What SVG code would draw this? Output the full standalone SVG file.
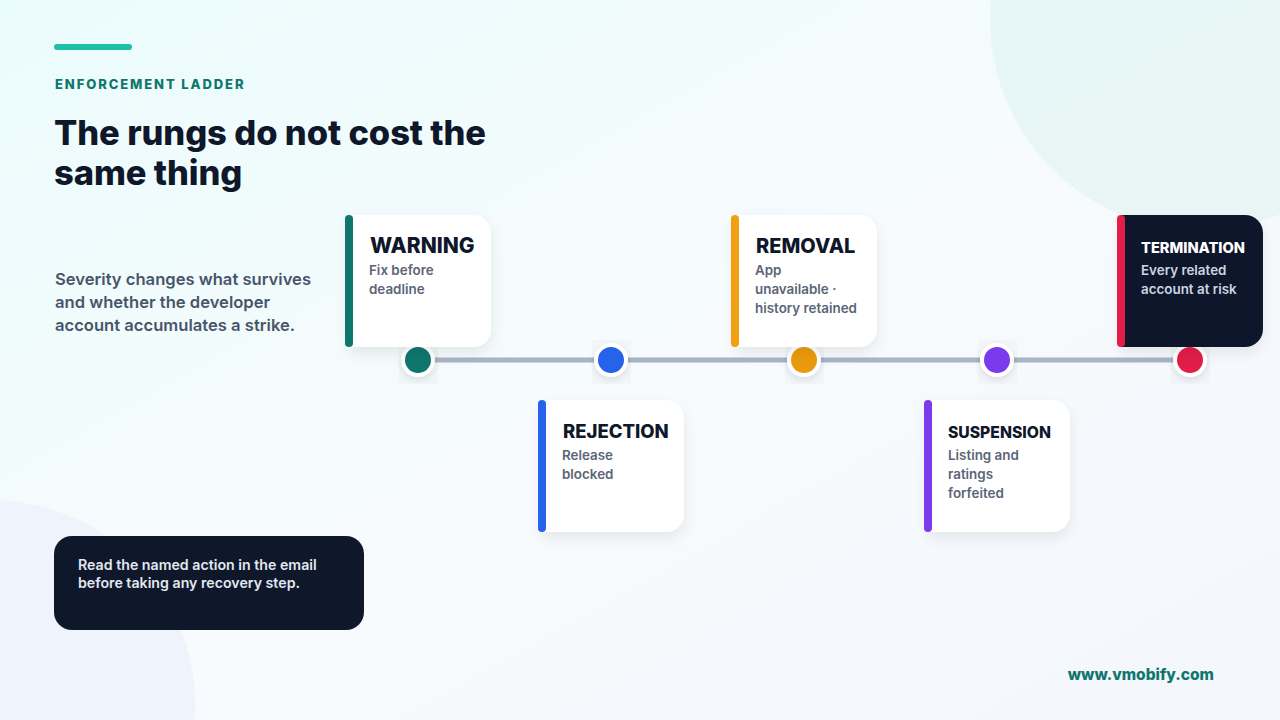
<svg xmlns="http://www.w3.org/2000/svg" width="1280" height="720" viewBox="0 0 1280 720">
  <defs>
    <linearGradient id="bg" x1="0" y1="0" x2="1" y2="1">
      <stop offset="0" stop-color="#ebfcfc"/>
      <stop offset="0.55" stop-color="#f8fbfd"/>
      <stop offset="1" stop-color="#f3f6fc"/>
    </linearGradient>
    <filter id="shadow" x="-30%" y="-30%" width="160%" height="170%">
      <feDropShadow dx="0" dy="6" stdDeviation="7" flood-color="#0f172a" flood-opacity="0.08"/>
    </filter>
    <filter id="dotshadow" x="-60%" y="-60%" width="220%" height="220%">
      <feDropShadow dx="0" dy="3" stdDeviation="3" flood-color="#0f172a" flood-opacity="0.10"/>
    </filter>
    <style>
      text { font-family: Inter, "Noto Sans", "Liberation Sans", sans-serif; }
      .kicker { font-size: 13px; font-weight: 800; letter-spacing: 1.9px; fill: #0f766e; }
      .title { font-size: 34.5px; font-weight: 800; fill: #0f172a; letter-spacing: -0.1px; }
      .lead { font-size: 16.6px; font-weight: 600; fill: #475569; }
      .card { fill: #ffffff; filter: url(#shadow); }
      .card-dark { fill: #0f172a; filter: url(#shadow); }
      .ctitle { font-weight: 800; fill: #0f172a; }
      .ctitle-dark { font-weight: 800; fill: #ffffff; }
      .cdesc { font-size: 13.4px; font-weight: 600; fill: #5b6577; }
      .cdesc-dark { font-size: 13.4px; font-weight: 600; fill: #cbd5e1; }
      .note { font-size: 14.2px; font-weight: 600; fill: #e2e8f0; }
      .url { font-size: 15.5px; font-weight: 800; fill: #0f766e; }
      .ring { fill: #ffffff; filter: url(#dotshadow); }
      .halo { fill: #0f172a; opacity: 0.02; }
    </style>
  </defs>

  <rect x="0" y="0" width="1280" height="720" fill="url(#bg)"/>
  <circle cx="1200" cy="20" r="210" fill="#e4f5f4" opacity="0.8"/>
  <circle cx="-10" cy="705" r="205" fill="#edf2fc" opacity="0.9"/>

  <g id="header">
    <rect x="54" y="44" width="78" height="6" rx="3" fill="#1dbfa8"/>
    <text class="kicker" x="55" y="89">ENFORCEMENT LADDER</text>
    <text class="title" x="54" y="145">The rungs do not cost the</text>
    <text class="title" x="54" y="185">same thing</text>
  </g>

  <g id="lead">
    <text class="lead" x="55" y="285">Severity changes what survives</text>
    <text class="lead" x="55" y="308">and whether the developer</text>
    <text class="lead" x="55" y="331">account accumulates a strike.</text>
  </g>

  <g id="connectors">
    <line x1="418" y1="360" x2="1190" y2="360" stroke="#a8b4c4" stroke-width="5"/>
  </g>

  <g id="dots">
    <g id="dot-warning">
      <rect class="halo" x="399" y="340" width="39" height="44"/>
      <circle class="ring" cx="418" cy="360" r="17"/>
      <circle cx="418" cy="360" r="13" fill="#0f766e"/>
    </g>
    <g id="dot-rejection">
      <rect class="halo" x="592" y="340" width="39" height="44"/>
      <circle class="ring" cx="611" cy="360" r="17"/>
      <circle cx="611" cy="360" r="13" fill="#2563eb"/>
    </g>
    <g id="dot-removal">
      <rect class="halo" x="785" y="340" width="39" height="44"/>
      <circle class="ring" cx="804" cy="360" r="17"/>
      <circle cx="804" cy="360" r="13" fill="#ea9a0c"/>
    </g>
    <g id="dot-suspension">
      <rect class="halo" x="978" y="340" width="39" height="44"/>
      <circle class="ring" cx="997" cy="360" r="17"/>
      <circle cx="997" cy="360" r="13" fill="#7c3aed"/>
    </g>
    <g id="dot-termination">
      <rect class="halo" x="1171" y="340" width="39" height="44"/>
      <circle class="ring" cx="1190" cy="360" r="17"/>
      <circle cx="1190" cy="360" r="13" fill="#e11d48"/>
    </g>
  </g>

  <g id="card-warning">
    <path class="card" d="M349,215 H473 A18,18 0 0 1 491,233 V329 A18,18 0 0 1 473,347 H349 Z"/>
    <rect x="345" y="215" width="8" height="132" rx="4" fill="#0f766e"/>
    <text class="ctitle" x="370" y="253" font-size="21">WARNING</text>
    <text class="cdesc" x="369" y="275">Fix before</text>
    <text class="cdesc" x="369" y="294">deadline</text>
  </g>

  <g id="card-rejection">
    <path class="card" d="M542,400 H666 A18,18 0 0 1 684,418 V514 A18,18 0 0 1 666,532 H542 Z"/>
    <rect x="538" y="400" width="8" height="132" rx="4" fill="#2563eb"/>
    <text class="ctitle" x="563" y="438" font-size="18.5">REJECTION</text>
    <text class="cdesc" x="562" y="460">Release</text>
    <text class="cdesc" x="562" y="479">blocked</text>
  </g>

  <g id="card-removal">
    <path class="card" d="M735,215 H859 A18,18 0 0 1 877,233 V329 A18,18 0 0 1 859,347 H735 Z"/>
    <rect x="731" y="215" width="8" height="132" rx="4" fill="#f0a010"/>
    <text class="ctitle" x="756" y="253" font-size="20">REMOVAL</text>
    <text class="cdesc" x="755" y="275">App</text>
    <text class="cdesc" x="755" y="294">unavailable ·</text>
    <text class="cdesc" x="755" y="313">history retained</text>
  </g>

  <g id="card-suspension">
    <path class="card" d="M928,400 H1052 A18,18 0 0 1 1070,418 V514 A18,18 0 0 1 1052,532 H928 Z"/>
    <rect x="924" y="400" width="8" height="132" rx="4" fill="#7c3aed"/>
    <text class="ctitle" x="948" y="438" font-size="15.7">SUSPENSION</text>
    <text class="cdesc" x="948" y="460">Listing and</text>
    <text class="cdesc" x="948" y="479">ratings</text>
    <text class="cdesc" x="948" y="498">forfeited</text>
  </g>

  <g id="card-termination">
    <path class="card-dark" d="M1121,215 H1245 A18,18 0 0 1 1263,233 V329 A18,18 0 0 1 1245,347 H1121 Z"/>
    <rect x="1117" y="215" width="8" height="132" rx="4" fill="#e11d48"/>
    <text class="ctitle-dark" x="1141" y="253" font-size="14.6">TERMINATION</text>
    <text class="cdesc-dark" x="1141" y="275">Every related</text>
    <text class="cdesc-dark" x="1141" y="294">account at risk</text>
  </g>

  <g id="note">
    <rect x="54" y="536" width="310" height="94" rx="18" fill="#0f172a"/>
    <text class="note" x="78" y="570">Read the named action in the email</text>
    <text class="note" x="78" y="588">before taking any recovery step.</text>
  </g>

  <g id="footer">
    <text class="url" x="1214" y="680" text-anchor="end">www.vmobify.com</text>
  </g>
</svg>
